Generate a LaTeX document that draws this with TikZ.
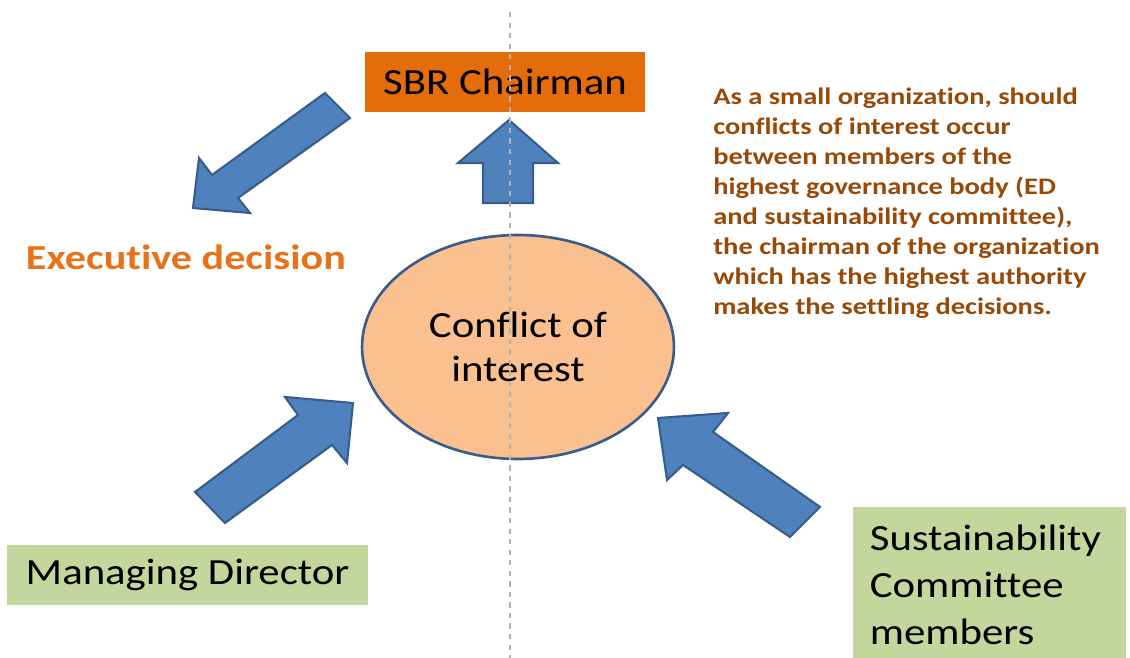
\documentclass[tikz,border=0pt]{standalone}
\usepackage{fontspec}
\setmainfont[FakeStretch=1.16,Ligatures=NoCommon]{Carlito}
\newfontfamily\widebold[FakeStretch=1.2,Ligatures=NoCommon]{Carlito}
\usetikzlibrary{shapes.geometric}
\definecolor{chairorange}{RGB}{228,108,10}
\definecolor{decorange}{RGB}{232,114,26}
\definecolor{notebrown}{RGB}{152,72,7}
\definecolor{arrowblue}{RGB}{79,129,189}
\definecolor{arrowedge}{RGB}{56,93,138}
\definecolor{peach}{RGB}{250,192,144}
\definecolor{sage}{RGB}{195,214,155}
\tikzset{
  bigarrow/.style={fill=arrowblue,draw=arrowedge,line width=1.2pt,line join=miter},
  greenbox/.style={fill=sage,inner sep=0pt,font=\fontsize{21}{27}\selectfont}
}

\begin{document}
\begin{tikzpicture}[x=0.02cm,y=-0.02cm]
\useasboundingbox (0,0) rectangle (1130,658);
\node[fill=chairorange,minimum width=5.6cm,minimum height=1.2cm,font=\fontsize{21}{25}\selectfont] (chair) at (505,82) {SBR Chairman};
\node[ellipse,fill=peach,draw=arrowedge,line width=1.5pt,minimum width=6.24cm,minimum height=4.48cm,align=center,font=\fontsize{21}{25}\selectfont] (coi) at (518,347) {Conflict of\\interest};
\node[text=decorange,font=\widebold\bfseries\fontsize{20}{24}\selectfont] (exec) at (186,257) {Executive decision};
\node[greenbox,minimum width=7.22cm,minimum height=1.2cm] (md) at (187.5,575) {Managing Director};
\node[greenbox,anchor=north west,minimum width=5.46cm,minimum height=3.1cm,text width=4.8cm,align=left] (sc) at (853,507) {Sustainability\\Committee\\members};
\node[anchor=north west,text=notebrown,align=left,inner sep=0pt,font=\widebold\bfseries\fontsize{13.5}{17}\selectfont] (note) at (713,88) {As a small organization, should\\conflicts of interest occur\\between members of the\\highest governance body (ED\\and sustainability committee),\\the chairman of the organization\\which has the highest authority\\makes the settling decisions.};
% block arrows
\draw[bigarrow] (483,203) -- (483,163) -- (458,163) -- (509,120) -- (558,163) -- (533,163) -- (533,203) -- cycle;
\draw[bigarrow] (325,93) -- (212,175) -- (199,158) -- (193,208) -- (250,213) -- (238,198) -- (350,118) -- cycle;
\draw[bigarrow] (195,492) -- (298,415) -- (285,397) -- (353,403) -- (347,463) -- (332,445) -- (225,523) -- cycle;
\draw[bigarrow] (820,507) -- (713,432) -- (728,413) -- (658,418) -- (667,480) -- (683,465) -- (790,537) -- cycle;
% guide line
\coordinate (gtop) at (510,12);
\coordinate (gbot) at (510,658);
\draw[gray!60,dashed,line width=0.8pt] (gtop) -- (gbot);
\end{tikzpicture}
\end{document}
